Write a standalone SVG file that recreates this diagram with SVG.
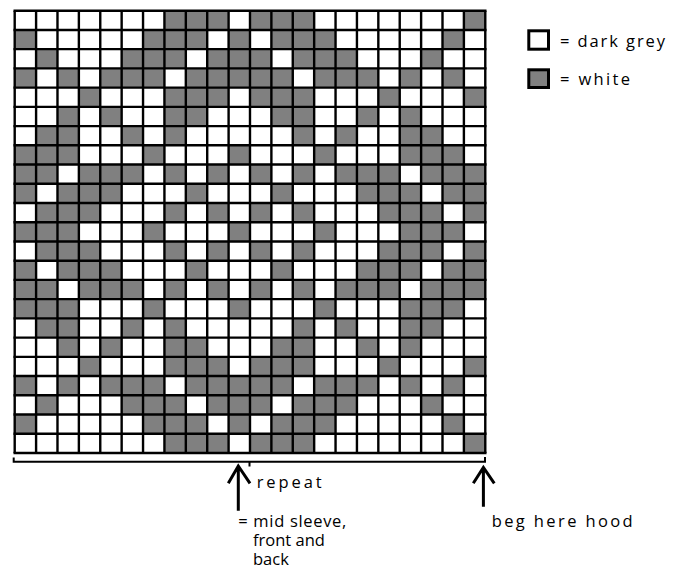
<svg xmlns="http://www.w3.org/2000/svg" xmlns:xlink="http://www.w3.org/1999/xlink" width="681" height="568" viewBox="0 0 681 568">
<style>
.g{fill:#808080}
.grid{fill:none;stroke:#000;stroke-width:2.4}
.ln{fill:none;stroke:#000;stroke-width:2;stroke-linecap:butt}
.arr{fill:none;stroke:#000;stroke-width:3;stroke-linecap:butt;stroke-linejoin:miter}
.t{font-family:"Open Sans","Liberation Sans",Arial,sans-serif;font-size:16.5px;fill:#000}
</style>
<defs>
<g id="r0" class="g"><rect x="7" width="3" height="1"/><rect x="11" width="3" height="1"/><rect x="21" width="1" height="1"/></g>
<g id="r1" class="g"><rect x="0" width="1" height="1"/><rect x="6" width="3" height="1"/><rect x="10" width="1" height="1"/><rect x="12" width="3" height="1"/><rect x="20" width="1" height="1"/></g>
<g id="r2" class="g"><rect x="1" width="1" height="1"/><rect x="5" width="3" height="1"/><rect x="9" width="3" height="1"/><rect x="13" width="3" height="1"/><rect x="19" width="1" height="1"/></g>
<g id="r3" class="g"><rect x="0" width="1" height="1"/><rect x="2" width="1" height="1"/><rect x="4" width="3" height="1"/><rect x="8" width="5" height="1"/><rect x="14" width="3" height="1"/><rect x="18" width="1" height="1"/><rect x="20" width="1" height="1"/></g>
<g id="r4" class="g"><rect x="3" width="1" height="1"/><rect x="7" width="3" height="1"/><rect x="11" width="3" height="1"/><rect x="17" width="1" height="1"/><rect x="21" width="1" height="1"/></g>
<g id="r5" class="g"><rect x="2" width="1" height="1"/><rect x="4" width="1" height="1"/><rect x="7" width="2" height="1"/><rect x="12" width="2" height="1"/><rect x="16" width="1" height="1"/><rect x="18" width="1" height="1"/></g>
<g id="r6" class="g"><rect x="1" width="2" height="1"/><rect x="5" width="1" height="1"/><rect x="7" width="1" height="1"/><rect x="13" width="1" height="1"/><rect x="15" width="1" height="1"/><rect x="18" width="2" height="1"/></g>
<g id="r7" class="g"><rect x="0" width="3" height="1"/><rect x="6" width="1" height="1"/><rect x="10" width="1" height="1"/><rect x="14" width="1" height="1"/><rect x="18" width="3" height="1"/></g>
<g id="r8" class="g"><rect x="0" width="2" height="1"/><rect x="3" width="3" height="1"/><rect x="7" width="1" height="1"/><rect x="9" width="1" height="1"/><rect x="11" width="1" height="1"/><rect x="13" width="1" height="1"/><rect x="15" width="3" height="1"/><rect x="19" width="3" height="1"/></g>
<g id="r9" class="g"><rect x="0" width="1" height="1"/><rect x="2" width="3" height="1"/><rect x="8" width="1" height="1"/><rect x="12" width="1" height="1"/><rect x="16" width="3" height="1"/><rect x="20" width="2" height="1"/></g>
<g id="r10" class="g"><rect x="1" width="3" height="1"/><rect x="7" width="1" height="1"/><rect x="9" width="1" height="1"/><rect x="11" width="1" height="1"/><rect x="13" width="1" height="1"/><rect x="17" width="3" height="1"/><rect x="21" width="1" height="1"/></g>
</defs>
<rect width="681" height="568" fill="#fff"/>
<g id="chart">
<rect x="14.7" y="10.7" width="470.6" height="442.3" fill="#fff"/>
<g transform="translate(14.7 10.7) scale(21.39 19.23)">
<use xlink:href="#r0" y="0"/><use xlink:href="#r1" y="1"/><use xlink:href="#r2" y="2"/><use xlink:href="#r3" y="3"/>
<use xlink:href="#r4" y="4"/><use xlink:href="#r5" y="5"/><use xlink:href="#r6" y="6"/><use xlink:href="#r7" y="7"/>
<use xlink:href="#r8" y="8"/><use xlink:href="#r9" y="9"/><use xlink:href="#r10" y="10"/><use xlink:href="#r7" y="11"/>
<use xlink:href="#r10" y="12"/><use xlink:href="#r9" y="13"/><use xlink:href="#r8" y="14"/><use xlink:href="#r7" y="15"/>
<use xlink:href="#r6" y="16"/><use xlink:href="#r5" y="17"/><use xlink:href="#r4" y="18"/><use xlink:href="#r3" y="19"/>
<use xlink:href="#r2" y="20"/><use xlink:href="#r1" y="21"/><use xlink:href="#r0" y="22"/>
</g>
<path class="grid" d="M14.7 10.7V453M36.09 10.7V453M57.48 10.7V453M78.87 10.7V453M100.26 10.7V453M121.65 10.7V453M143.04 10.7V453M164.43 10.7V453M185.82 10.7V453M207.21 10.7V453M228.6 10.7V453M249.99 10.7V453M271.38 10.7V453M292.77 10.7V453M314.16 10.7V453M335.55 10.7V453M356.94 10.7V453M378.33 10.7V453M399.72 10.7V453M421.11 10.7V453M442.5 10.7V453M463.89 10.7V453M485.28 10.7V453"/>
<path class="grid" d="M13.5 10.7H486.5M13.5 29.93H486.5M13.5 49.16H486.5M13.5 68.39H486.5M13.5 87.62H486.5M13.5 106.85H486.5M13.5 126.08H486.5M13.5 145.31H486.5M13.5 164.54H486.5M13.5 183.77H486.5M13.5 203H486.5M13.5 222.23H486.5M13.5 241.46H486.5M13.5 260.69H486.5M13.5 279.92H486.5M13.5 299.15H486.5M13.5 318.38H486.5M13.5 337.61H486.5M13.5 356.84H486.5M13.5 376.07H486.5M13.5 395.3H486.5M13.5 414.53H486.5M13.5 433.76H486.5M13.5 453H486.5"/>
</g>
<g id="legend">
<g id="legend-dark"><rect x="528.8" y="30.8" width="19.7" height="18.4" fill="#fff" stroke="#000" stroke-width="3"/><text class="t" x="560" y="46.7" textLength="105" lengthAdjust="spacing">= dark grey</text></g>
<g id="legend-white"><rect x="528.8" y="69.8" width="19.7" height="17.7" fill="#808080" stroke="#000" stroke-width="3"/><text class="t" x="560" y="85" textLength="70" lengthAdjust="spacing">= white</text></g>
</g>
<g id="connectors">
<path class="ln" d="M12.7 461.7H486M13.7 457.5V462.7M485 457V462.7M249.5 461V466.5"/>
<path class="arr" d="M238.3 465.5V510.7M228.3 483.3L238.3 466L250 483.3"/>
<path class="arr" d="M483.4 467V506.7M473.3 483.3L483.4 467.5L494.3 483.3"/>
</g>
<g id="labels">
<text class="t" x="256.7" y="488" textLength="65" lengthAdjust="spacing">repeat</text>
<text class="t" x="238.3" y="527" textLength="108" lengthAdjust="spacing">= mid sleeve,</text>
<text class="t" x="253" y="546">front and</text>
<text class="t" x="253" y="565">back</text>
<text class="t" x="491.7" y="527" textLength="141" lengthAdjust="spacing">beg here hood</text>
</g>
</svg>
